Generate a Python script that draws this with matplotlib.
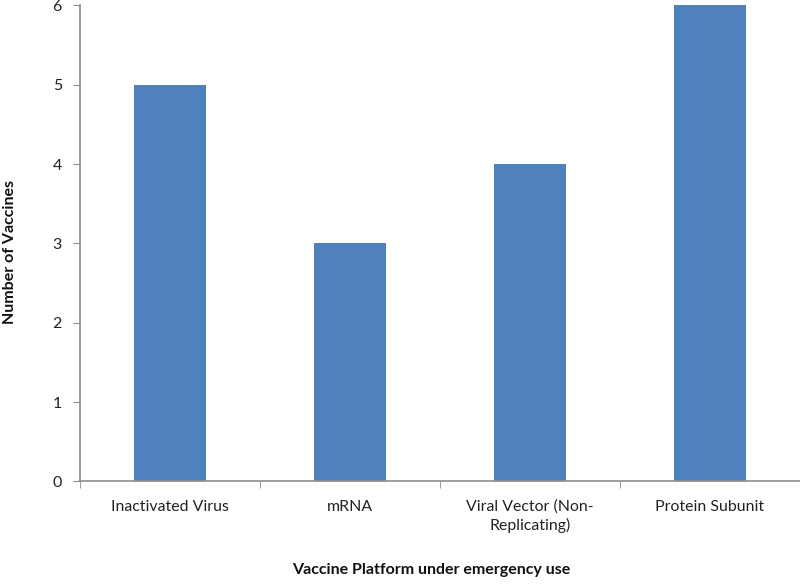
import matplotlib
matplotlib.use("Agg")
import matplotlib.pyplot as plt
import numpy as np

platforms = ["Inactivated Virus", "mRNA", "Viral Vector (Non-\nReplicating)", "Protein Subunit"]
vaccines = [5, 3, 4, 6]
y_ticks = [0, 1, 2, 3, 4, 5, 6]

plt.rcParams['font.family'] = ['Lato', 'DejaVu Sans']

fig = plt.figure(figsize=(8, 5.85), dpi=100)
ax = fig.add_axes([0.1, 0.177, 0.9, 0.8136])

x = np.arange(len(platforms))
ax.bar(x, vaccines, width=0.4, color="#4F81BD", zorder=2)

ax.set_xlim(-0.5, len(platforms) - 0.5)
ax.set_ylim(0, 6)
ax.set_yticks(y_ticks)
ax.set_xticks(x)
ax.set_xticklabels(platforms, fontsize=11.4, color="#222222", linespacing=1.3)
ax.set_xticks(np.arange(len(platforms) + 1) - 0.5, minor=True)
ax.tick_params(axis="x", which="major", length=0, pad=13)
ax.tick_params(axis="x", which="minor", length=5, color="#8c8c8c")
ax.tick_params(axis="y", length=5, color="#8c8c8c", labelsize=11.5, pad=8, labelcolor="#222222")

for s in ["top", "right"]:
    ax.spines[s].set_visible(False)
for s in ["left", "bottom"]:
    ax.spines[s].set_color("#8c8c8c")
    ax.spines[s].set_linewidth(1.2)

fig.text(0.539, 0.013, "Vaccine Platform under emergency use", ha="center", va="bottom",
         fontsize=11.5, fontweight="bold", color="#111111")
fig.text(0.012, 0.569, "Number of Vaccines", ha="center", va="center", rotation=90,
         fontsize=11.5, fontweight="bold", color="#111111")

fig.savefig("out.png", dpi=100)
